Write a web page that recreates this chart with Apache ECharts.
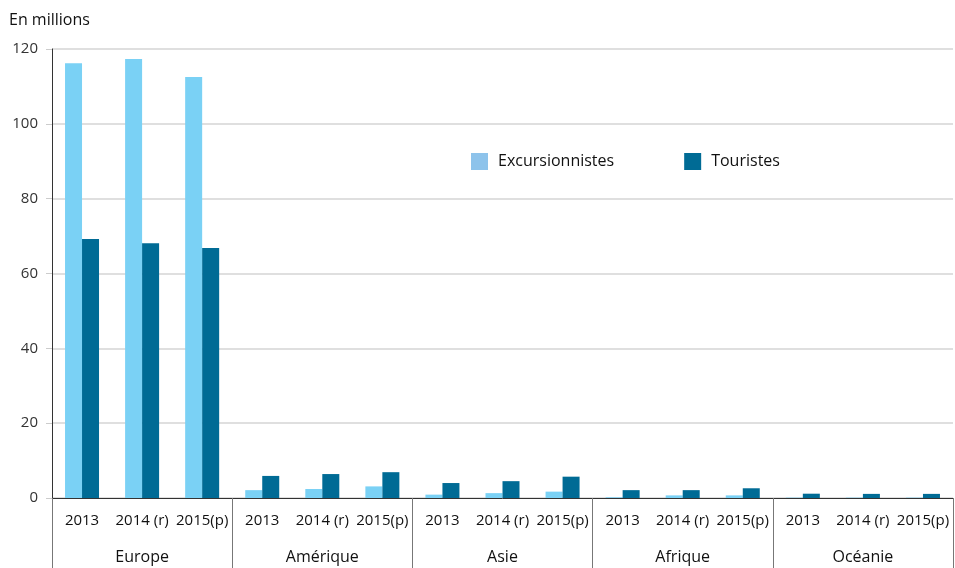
<!DOCTYPE html>
<html>
<head>
<meta charset="utf-8">
<script src="https://cdn.jsdelivr.net/npm/echarts@6/dist/echarts.min.js"></script>
<style>
  html, body { margin: 0; padding: 0; background: #fff; }
  #chart { width: 955px; height: 568px; }
</style>
</head>
<body>
<div id="chart"></div>
<script>
// données (en millions)
var years = ['2013', '2014 (r)', '2015(p)'];
var regions = ['Europe', 'Amérique', 'Asie', 'Afrique', 'Océanie'];
var excursionnistes = [116.2, 117.3, 112.5, 2.1, 2.4, 3.1, 0.9, 1.3, 1.7, 0.2, 0.7, 0.7, 0.1, 0.1, 0.1];
var touristes = [69.2, 68.1, 66.8, 5.9, 6.4, 6.9, 4.0, 4.5, 5.7, 2.1, 2.1, 2.6, 1.15, 1.1, 1.1];
var yTicks = { min: 0, max: 120, step: 20 };

var categories = [];
regions.forEach(function () {
  years.forEach(function (y) { categories.push(y); });
});

var font = 'Open Sans';
var chart = echarts.init(document.getElementById('chart'));
chart.setOption({
  animation: false,
  textStyle: { fontFamily: font },
  title: {
    text: 'En millions',
    left: 4, top: 7,
    textStyle: { fontSize: 16, fontWeight: 'normal', color: '#111', fontFamily: font }
  },
  legend: {
    left: 466, top: 148,
    itemWidth: 17, itemHeight: 17, itemGap: 70,
    icon: 'rect',
    textStyle: { fontSize: 16, color: '#111', fontFamily: font, padding: [0, 0, 0, 5] },
    data: [
      { name: 'Excursionnistes', itemStyle: { color: '#8dc3eb' } },
      { name: 'Touristes', itemStyle: { color: '#006b95' } }
    ]
  },
  grid: { left: 52, right: 2, top: 49, bottom: 70, containLabel: false },
  xAxis: [
    {
      type: 'category',
      data: categories,
      axisLine: { lineStyle: { color: '#333', width: 1 } },
      axisTick: { show: false },
      axisLabel: { interval: 0, fontSize: 15, color: '#111', margin: 15 }
    },
    {
      type: 'category',
      data: regions,
      position: 'bottom',
      axisLine: { show: false },
      axisTick: { show: true, interval: 0, length: 70, lineStyle: { color: '#777' } },
      axisLabel: { interval: 0, fontSize: 16, color: '#111', margin: 51 }
    }
  ],
  yAxis: {
    type: 'value',
    min: yTicks.min, max: yTicks.max, interval: yTicks.step,
    axisLine: { show: true, lineStyle: { color: '#333' } },
    axisTick: { show: true, length: 6, lineStyle: { color: '#ccc' } },
    axisLabel: { fontSize: 15, color: '#333', margin: 14 },
    splitLine: { lineStyle: { color: '#d4d4d4', width: 1.5 } }
  },
  series: [
    {
      name: 'Excursionnistes', type: 'bar', xAxisIndex: 0,
      data: excursionnistes, barWidth: 17, barGap: '0%',
      itemStyle: { color: '#7ad1f5' }
    },
    {
      name: 'Touristes', type: 'bar', xAxisIndex: 0,
      data: touristes, barWidth: 17,
      itemStyle: { color: '#006b95' }
    }
  ]
});
</script>
</body>
</html>
